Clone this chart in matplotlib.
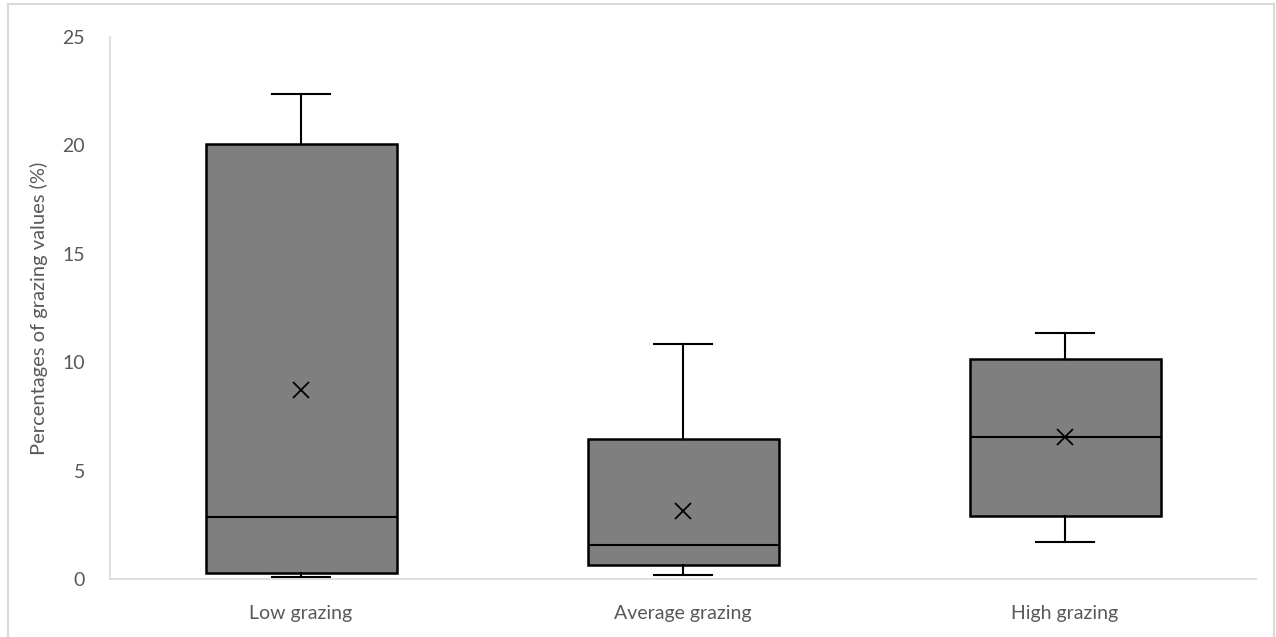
import matplotlib.pyplot as plt

plt.rcParams['font.family'] = ['Lato', 'DejaVu Sans']

categories = ['Low grazing', 'Average grazing', 'High grazing']
whislo = [0.09, 0.19, 1.70]
q1 = [0.28, 0.65, 2.89]
med = [2.84, 1.59, 6.53]
q3 = [20.06, 6.44, 10.15]
whishi = [22.39, 10.86, 11.36]
means = [8.71, 3.13, 6.53]

stats = []
for i, name in enumerate(categories):
    stats.append({'label': name, 'whislo': whislo[i], 'q1': q1[i], 'med': med[i],
                  'q3': q3[i], 'whishi': whishi[i], 'mean': means[i], 'fliers': []})

fig = plt.figure(figsize=(12.76, 6.37), dpi=100)
ax = fig.add_axes([110 / 1276, 58 / 637, 1146 / 1276, 542 / 637])

ax.bxp(stats, positions=[0, 1, 2], widths=0.5, patch_artist=True, showmeans=True,
       boxprops=dict(facecolor='#7f7f7f', edgecolor='black', linewidth=1.8),
       medianprops=dict(color='black', linewidth=1.5),
       whiskerprops=dict(color='black', linewidth=1.5),
       capprops=dict(color='black', linewidth=1.5),
       capwidths=0.15,
       meanprops=dict(marker='x', markeredgecolor='black', markersize=11, markeredgewidth=1.3))

ax.set_xlim(-0.5, 2.5)
ax.set_ylim(0, 25)
ax.set_yticks([0, 5, 10, 15, 20, 25])
ax.set_xticks([0, 1, 2])
ax.set_xticklabels(categories)
ax.tick_params(axis='both', length=0, labelsize=14, colors='#595959')
ax.tick_params(axis='x', pad=19)
ax.tick_params(axis='y', pad=18)
ax.set_ylabel('Percentages of grazing values (%)', fontsize=14.5, color='#595959', labelpad=10)

for s in ['top', 'right']:
    ax.spines[s].set_visible(False)
for s in ['left', 'bottom']:
    ax.spines[s].set_color('#d9d9d9')
    ax.spines[s].set_linewidth(1.2)

# outer chart border (bottom edge falls outside the image)
fig.patches.append(plt.Rectangle((8 / 1276, -0.05), 1266 / 1276, 1.05 - 4 / 637,
                                 transform=fig.transFigure, fill=False,
                                 edgecolor='#d9d9d9', linewidth=1.5))

fig.savefig('out.png', dpi=100)
